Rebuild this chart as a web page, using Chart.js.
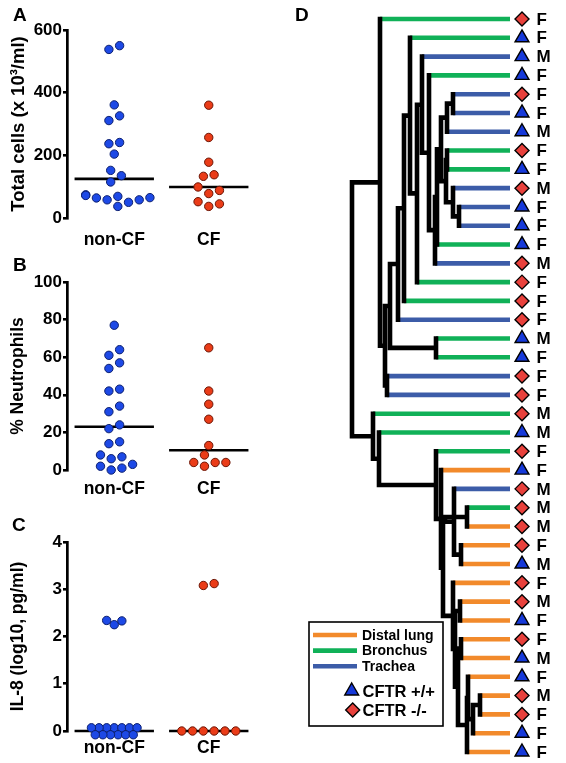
<!DOCTYPE html>
<html>
<head>
<meta charset="utf-8">
<script src="https://cdn.jsdelivr.net/npm/chart.js@4/dist/chart.umd.min.js"></script>
<style>
  body { margin: 0; background: #fff; }
  #wrap { position: relative; width: 566px; height: 763px; overflow: hidden; font-family: 'Liberation Sans', Arial, sans-serif; }
  canvas { position: absolute; }
  .tag { position: absolute; font-weight: bold; font-size: 19px; line-height: 19px; }
</style>
</head>
<body>
<div id="wrap">
  <canvas id="chartA" width="270" height="255" style="left:0;top:0"></canvas>
  <canvas id="chartB" width="270" height="255" style="left:0;top:252px"></canvas>
  <canvas id="chartC" width="270" height="251" style="left:0;top:512px"></canvas>
  <canvas id="chartD" width="266" height="763" style="left:300px;top:0"></canvas>
  <div class="tag" style="left:13px;top:4.5px">A</div>
  <div class="tag" style="left:13px;top:254.5px">B</div>
  <div class="tag" style="left:12px;top:514.5px">C</div>
  <div class="tag" style="left:295px;top:4.5px">D</div>
</div>
<script>
const FONT = "'Liberation Sans', Arial, sans-serif";
Chart.defaults.font.family = FONT;
Chart.defaults.color = '#000';

// ---- panels A-C: values
const groups = ['non-CF', 'CF'];
const totalCellsNonCF = [550, 538, 361, 326, 311, 241, 237, 204, 152, 135, 115, 74, 72, 69, 65, 64, 58, 58, 50, 37];
const totalCellsCF = [360, 257, 178, 138, 133, 99, 88, 78, 52, 45, 37];
const neutrophilsNonCF = [77, 64, 61, 57, 54, 43, 42, 34, 31, 24, 22, 15, 14, 8, 7, 6, 3, 2, 1, 0];
const neutrophilsCF = [65, 42, 35, 27, 13, 8, 4, 4, 4, 2];
const il8NonCF = [2.34, 2.33, 2.25, 0, 0, 0, 0, 0, 0, 0, 0, 0, 0, 0, 0, 0];
const il8CF = [3.12, 3.08, 0, 0, 0, 0, 0, 0];

// ---- panel D: leaves top to bottom
const tissue = ['B','B','T','B','T','T','T','B','B','T',
                'T','T','B','T','B','B','T','B','B','T',
                'T','B','B','B','D','T','B','D','D','D',
                'D','D','D','D','D','D','D','D','D','D'];
const genotype = ['-/-','+/+','+/+','+/+','-/-','+/+','+/+','-/-','+/+','-/-',
                  '+/+','+/+','+/+','-/-','-/-','-/-','-/-','+/+','+/+','-/-',
                  '-/-','-/-','+/+','-/-','+/+','-/-','-/-','-/-','-/-','+/+',
                  '-/-','-/-','+/+','-/-','+/+','+/+','-/-','-/-','+/+','+/+'];
const sex = ['F','F','M','F','F','F','M','F','F','M',
             'F','F','F','M','F','F','F','M','F','F',
             'F','M','M','F','F','M','M','M','F','M',
             'F','M','F','F','M','F','M','F','F','F'];
// [height, childA, childB]; numbers are leaf positions
const tree =
[158,
  [130, 1,
    [125,
      [120,
        [112,
          [106,
            [100, 2,
              [93,
                [88, 3,
                  [81, 4,
                    [75,
                      [73,
                        [69,
                          [63, [57, 5, 6], 7],
                          [64, [63, 8, 9], [57, 10, [51, 11, 12]]]
                        ],
                        13],
                      14]]],
                15]],
            16],
          17],
        [74, 18, 19]],
      [123, 20, 21]]],
  [137, 22,
    [131, 23,
      [74, 24,
        [69, 25,
          [67,
            [65, [43, 27, 28], [56, 26, [49, 29, 30]]],
            [57, 31,
              [55, [50, 32, 33],
                [52, [49, 34, 35],
                  [43, [42, 36, [37, [30, 37, 38], 39]], 40]]]]]]]]]
];

const tissueKeys = ['D', 'B', 'T'];
const tissueName = { D: 'Distal lung', B: 'Bronchus', T: 'Trachea' };
const tissueColor = { D: '#f28a2b', B: '#10b158', T: '#3c5ca8' };
const BLUE = '#1d49e6', RED = '#ea3c18';

function median(arr) {
  const s = [...arr].sort((a, b) => a - b);
  const m = Math.floor(s.length / 2);
  return s.length % 2 ? s[m] : (s[m - 1] + s[m]) / 2;
}

// simple beeswarm in pixel space, then back to data units
function swarm(values, center, chart, opt) {
  const xs = chart.scales.x, ys = chart.scales.y;
  const pxPerUnit = xs.getPixelForValue(2) - xs.getPixelForValue(1);
  const order = values.map((v, i) => i).sort((a, b) => values[a] - values[b]);
  const maxK = Math.floor(opt.maxHalf / opt.step + 1e-6);
  const cands = [0];
  for (let k = 1; k <= maxK; k++) cands.push(k * opt.step, -k * opt.step);
  const placed = [];
  for (const i of order) {
    const y0 = ys.getPixelForValue(values[i]);
    let done = false;
    for (let dy = 0; !done && dy < 80; dy += 1) {
      for (const dx of cands) {
        if (placed.every(p => Math.hypot(p.dx - dx, p.py - (y0 + dy)) >= opt.dist - 1e-6)) {
          placed.push({ i, dx, dy, py: y0 + dy, v: values[i] });
          done = true;
          break;
        }
      }
    }
  }
  // equal values: centre the stacked rows on the value
  const byVal = {};
  placed.forEach(p => (byVal[p.v] = byVal[p.v] || []).push(p));
  Object.values(byVal).forEach(g => {
    const m = g.reduce((s, p) => s + p.dy, 0) / g.length;
    g.forEach(p => { p.py -= m; });
  });
  // centre each run of touching points on the column
  placed.sort((a, b) => a.py - b.py);
  let row = [];
  const flush = () => {
    if (row.length) {
      const m = row.reduce((s, p) => s + p.dx, 0) / row.length;
      row.forEach(p => { p.dx -= m; });
    }
    row = [];
  };
  for (const p of placed) {
    if (row.length && p.py - row[row.length - 1].py >= opt.chain) flush();
    row.push(p);
  }
  flush();
  const out = [];
  placed.forEach(p => { out[p.i] = { x: center + p.dx / pxPerUnit, y: ys.getValueForPixel(p.py) }; });
  return out;
}

function medianLine(c, vals) {
  const m = median(vals);
  return {
    type: 'line', data: [{ x: c - 0.42, y: m }, { x: c + 0.42, y: m }],
    borderColor: '#000', borderWidth: 2.6, pointRadius: 0, order: 1, clip: false
  };
}

function dots(vals, c, fill, edge) {
  return {
    data: vals.map(v => ({ x: c, y: v })),
    backgroundColor: fill, borderColor: edge, borderWidth: 1,
    pointRadius: 4.2, order: 0, clip: false
  };
}

function makePanel(id, nonCF, cf, yMax, yStep, yTitle, titleSize, labelPad, xHeight, optNon, optCF) {
  const chart = new Chart(document.getElementById(id), {
    type: 'scatter',
    data: {
      datasets: [
        medianLine(1, nonCF), medianLine(2, cf),
        dots(nonCF, 1, BLUE, '#0c1f6e'), dots(cf, 2, RED, '#6b1505')
      ]
    },
    options: {
      responsive: false, animation: false, events: [],
      layout: { padding: { top: 30, right: 14, bottom: 0, left: 0 } },
      plugins: { legend: { display: false }, tooltip: { enabled: false } },
      scales: {
        x: {
          type: 'linear', min: 0.5, max: 2.5,
          grid: { display: false, drawTicks: false }, border: { display: false },
          afterBuildTicks: s => { s.ticks = groups.map((g, i) => ({ value: i + 1 })); },
          ticks: { callback: v => groups[v - 1], font: { size: 17.5, weight: 'bold' }, padding: labelPad, maxRotation: 0, autoSkip: false },
          afterFit: s => { s.height = xHeight; }
        },
        y: {
          min: 0, max: yMax,
          ticks: { stepSize: yStep, font: { size: 17, weight: 'bold' }, padding: 1 },
          grid: { drawOnChartArea: false, tickLength: 4, lineWidth: 2.6, color: '#000' },
          border: { width: 2.7, color: '#000' },
          title: { display: true, text: yTitle, font: { size: titleSize, weight: 'bold' }, padding: { top: 7.5, bottom: 0 } },
          afterFit: s => { s.width = 67; }
        }
      }
    }
  });
  chart.data.datasets[2].data = swarm(nonCF, 1, chart, optNon);
  chart.data.datasets[3].data = swarm(cf, 2, chart, optCF);
  chart.update('none');
  return chart;
}

const wide = { step: 5.35, dist: 9, maxHalf: 33, chain: 9 };
makePanel('chartA', totalCellsNonCF, totalCellsCF, 600, 200, 'Total cells (x 10\u00B3/ml)', 18.5, 12, 37, wide, wide);
makePanel('chartB', neutrophilsNonCF, neutrophilsCF, 100, 20, '% Neutrophils', 17.5, 9, 37, wide, wide);
makePanel('chartC', il8NonCF, il8CF, 4, 1, 'IL-8 (log10, pg/ml)', 17.5, 7, 32,
  { step: 3.8, dist: 7.6, maxHalf: 23, chain: 3.8 }, { step: 5.4, dist: 10.8, maxHalf: 33, chain: 5.4 });

// ---- dendrogram segments from the tree
const black = [];
const colored = { D: [], B: [], T: [] };
const GAP = { x: null, y: null };
function layoutTree(node) {
  if (typeof node === 'number') return { y: node, h: 0, leaf: node };
  const [h, a, b] = node;
  const ca = layoutTree(a), cb = layoutTree(b);
  [ca, cb].forEach(c => {
    const seg = [{ x: c.h, y: c.y }, { x: h, y: c.y }, GAP];
    if (c.leaf) colored[tissue[c.leaf - 1]].push(...seg);
    else black.push(...seg);
  });
  black.push({ x: h, y: ca.y }, { x: h, y: cb.y }, GAP);
  return { y: (ca.y + cb.y) / 2, h };
}
layoutTree(tree);

function triangle(ctx, x, y, r) {
  ctx.beginPath();
  ctx.moveTo(x, y - r);
  ctx.lineTo(x + r * 0.866, y + r / 2);
  ctx.lineTo(x - r * 0.866, y + r / 2);
  ctx.closePath();
}
function diamond(ctx, x, y, r) {
  ctx.beginPath();
  ctx.moveTo(x, y - r); ctx.lineTo(x + r, y); ctx.lineTo(x, y + r); ctx.lineTo(x - r, y);
  ctx.closePath();
}

const leafLabels = {
  id: 'leafLabels',
  afterDatasetsDraw(chart) {
    const { ctx, scales: { x, y } } = chart;
    ctx.save();
    ctx.font = 'bold 17px ' + FONT;
    ctx.fillStyle = '#000';
    ctx.textAlign = 'left';
    ctx.textBaseline = 'middle';
    sex.forEach((s, i) => ctx.fillText(s, x.getPixelForValue(-26.5), y.getPixelForValue(i + 1) + 1));
    ctx.restore();
  }
};

const legendBox = {
  id: 'legendBox',
  afterDraw(chart) {
    const ctx = chart.ctx;
    ctx.save();
    ctx.fillStyle = '#fff';
    ctx.fillRect(9, 622, 134, 104);
    ctx.strokeStyle = '#000';
    ctx.lineWidth = 1.6;
    ctx.strokeRect(9, 622, 134, 104);
    ctx.font = 'bold 14px ' + FONT;
    ctx.textBaseline = 'middle';
    ctx.textAlign = 'left';
    tissueKeys.forEach((k, i) => {
      const yy = 635 + i * 15.6;
      ctx.strokeStyle = tissueColor[k];
      ctx.lineWidth = 4.6;
      ctx.beginPath(); ctx.moveTo(13, yy); ctx.lineTo(57, yy); ctx.stroke();
      ctx.fillStyle = '#000';
      ctx.fillText(tissueName[k], 62, yy + 1);
    });
    ctx.lineWidth = 1.4;
    ctx.strokeStyle = '#000';
    triangle(ctx, 51.7, 691, 8);
    ctx.fillStyle = '#1639d9'; ctx.fill(); ctx.stroke();
    diamond(ctx, 52.7, 710, 7);
    ctx.fillStyle = '#e8413c'; ctx.fill(); ctx.stroke();
    ctx.fillStyle = '#000';
    ctx.font = 'bold 16.5px ' + FONT;
    ctx.fillText('CFTR +/+', 62.5, 692);
    ctx.fillText('CFTR -/-', 62.5, 711);
    ctx.restore();
  }
};

new Chart(document.getElementById('chartD'), {
  type: 'scatter',
  data: {
    datasets: [
      {
        data: sex.map((s, i) => ({ x: -12, y: i + 1 })),
        pointStyle: genotype.map(g => g === '+/+' ? 'triangle' : 'rectRot'),
        pointRadius: genotype.map(g => g === '+/+' ? 8 : 7),
        backgroundColor: genotype.map(g => g === '+/+' ? '#1639d9' : '#e8413c'),
        borderColor: '#000', borderWidth: 1.4, order: 0, clip: false
      },
      {
        data: black, showLine: true, borderColor: '#000', borderWidth: 4.6,
        borderCapStyle: 'square', pointRadius: 0, order: 1, clip: false
      },
      ...tissueKeys.map(k => ({
        data: colored[k], showLine: true, borderColor: tissueColor[k], borderWidth: 4.6,
        pointRadius: 0, order: 2, clip: false
      }))
    ]
  },
  options: {
    responsive: false, animation: false, events: [],
    layout: { autoPadding: false, padding: { left: 46, right: 0, top: 9.6, bottom: 1.6 } },
    plugins: { legend: { display: false }, tooltip: { enabled: false } },
    scales: {
      x: { type: 'linear', reverse: true, min: -56, max: 164, display: false },
      y: { type: 'linear', reverse: true, min: 0.5, max: 40.5, display: false }
    }
  },
  plugins: [leafLabels, legendBox]
});
</script>
</body>
</html>
